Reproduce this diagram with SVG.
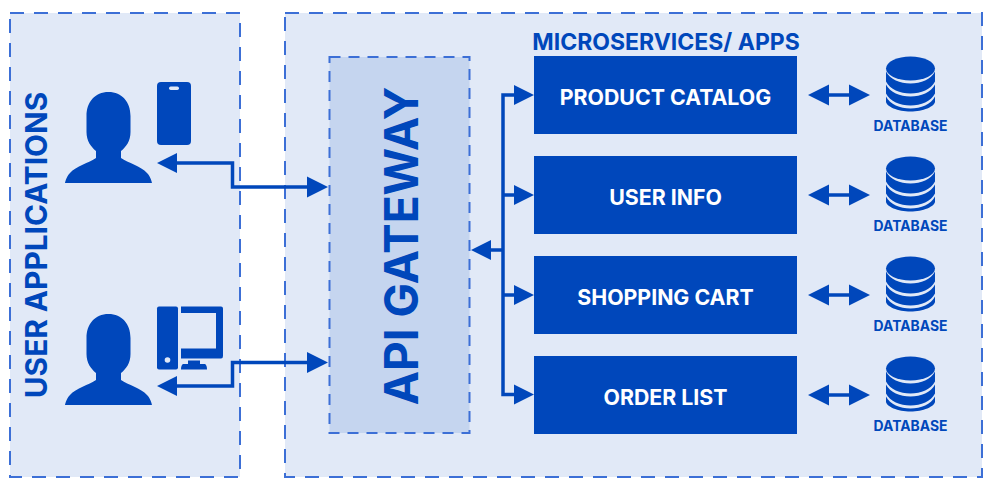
<svg xmlns="http://www.w3.org/2000/svg" width="997" height="491" viewBox="0 0 997 491">
<style>
text{font-family:Inter,"Liberation Sans",sans-serif;font-weight:700;fill:#0047bb;text-anchor:middle}
.panel{fill:#e1e9f7;stroke:#3c6fd6;stroke-width:2;stroke-dasharray:14 10}
.gw{fill:#c5d5ef;stroke:#3c6fd6;stroke-width:2;stroke-dasharray:11 8}
.box{fill:#0047bb}
.lbl{fill:#fff;font-size:21.300px}
.db{font-size:13.900px}
.line{fill:none;stroke:#0047bb;stroke-width:3.500}
.solid{fill:#0047bb}
.light{fill:#e1e9f7}
</style>
<defs>
<path id="person" class="solid" d="M43.500 0C30 0 21.500 10 21.500 24V40C21.500 49 26 55 31 59V66C24 71 11 74 5 81C1 85 0 91 0 91H87C87 91 86 85 82 81C76 74 63 71 56 66V59C61 55 65.500 49 65.500 40V24C65.500 10 57 0 43.500 0Z"/>
<g id="dbicon">
<ellipse class="solid" cx="24.500" cy="12" rx="24.500" ry="12"/>
<path class="solid" d="M0 15C4 23 14 27 24.500 27C35 27 45 23 49 15V25C45 33 35 37 24.500 37C14 37 4 33 0 25Z"/>
<path class="solid" d="M0 28C4 36 14 40 24.500 40C35 40 45 36 49 28V37C45 45 35 49 24.500 49C14 49 4 45 0 37Z"/>
<path class="solid" d="M0 40C4 48 14 52 24.500 52C35 52 45 48 49 40V45C49 50 37 55 24.500 55C12 55 0 50 0 45Z"/>
</g>
<g id="dbarrow">
<path class="line" d="M825 0H855"/>
<path class="solid" d="M808 0L829 -10.500V10.500ZM870 0L849 -10.500V10.500Z"/>
</g>
</defs>
<g id="user-applications">
<rect class="panel" x="10" y="13" width="230" height="464"/>
<text transform="translate(47 245) rotate(-90)" font-size="29.800">USER APPLICATIONS</text>
</g>
<g id="microservices">
<rect class="panel" x="285" y="13" width="697" height="464"/>
<text x="666" y="50" font-size="23">MICROSERVICES/ APPS</text>
</g>
<g id="api-gateway">
<rect class="gw" x="329.500" y="57" width="140" height="376"/>
<text transform="translate(418 246) rotate(-90)" font-size="46">API GATEWAY</text>
</g>
<g id="user-mobile"><use href="#person" x="65" y="92"/></g>
<g id="phone">
<rect class="solid" x="157" y="82" width="34" height="63" rx="4"/>
<rect class="light" x="169" y="86.500" width="10" height="3.500" rx="1.700"/>
</g>
<g id="user-desktop"><use href="#person" x="65" y="314"/></g>
<g id="computer">
<rect class="solid" x="157" y="306.500" width="21" height="63" rx="2"/>
<circle class="light" cx="167.500" cy="360" r="2.800"/>
<path class="solid" d="M181 306.500H221Q223 306.500 223 308.500V356Q223 358.500 221 358.500H181V348.500H216V313H181Z"/>
<path class="solid" d="M188 360.500H200V364H205Q207 365 207 369.500H181Q181 365 183 364H188Z"/>
</g>
<g id="product-catalog"><rect class="box" x="534" y="56" width="263" height="78"/><text class="lbl" x="665.500" y="105">PRODUCT CATALOG</text></g>
<g id="user-info"><rect class="box" x="534" y="156" width="263" height="78"/><text class="lbl" x="665.500" y="205">USER INFO</text></g>
<g id="shopping-cart"><rect class="box" x="534" y="256" width="263" height="78"/><text class="lbl" x="665.500" y="305">SHOPPING CART</text></g>
<g id="order-list"><rect class="box" x="534" y="356" width="263" height="78"/><text class="lbl" x="665.500" y="405">ORDER LIST</text></g>
<g id="database-1"><use href="#dbicon" x="886" y="56.500"/><text class="db" x="910.500" y="131">DATABASE</text></g>
<g id="database-2"><use href="#dbicon" x="886" y="156.500"/><text class="db" x="910.500" y="231">DATABASE</text></g>
<g id="database-3"><use href="#dbicon" x="886" y="256.500"/><text class="db" x="910.500" y="331">DATABASE</text></g>
<g id="database-4"><use href="#dbicon" x="886" y="356.500"/><text class="db" x="910.500" y="431">DATABASE</text></g>
<g id="connectors">
<path class="line" d="M172 163H232.500V187H312"/>
<path class="solid" d="M157 163L177 153V173ZM328 187L307 176.500V197.500Z"/>
<path class="line" d="M172 386H232.500V362.500H312"/>
<path class="solid" d="M157 386L177 376V396ZM328 362.500L307 352V373Z"/>
<path class="line" d="M518 95H503V394.500H518M503 195H518M503 295H518M503 250H485"/>
<path class="solid" d="M534 95L514 85V105ZM534 195L514 185V205ZM534 295L514 285V305ZM534 394.500L514 384.500V404.500ZM471 250L491 240V260Z"/>
<use href="#dbarrow" y="95"/>
<use href="#dbarrow" y="195"/>
<use href="#dbarrow" y="295"/>
<use href="#dbarrow" y="395"/>
</g>
</svg>
